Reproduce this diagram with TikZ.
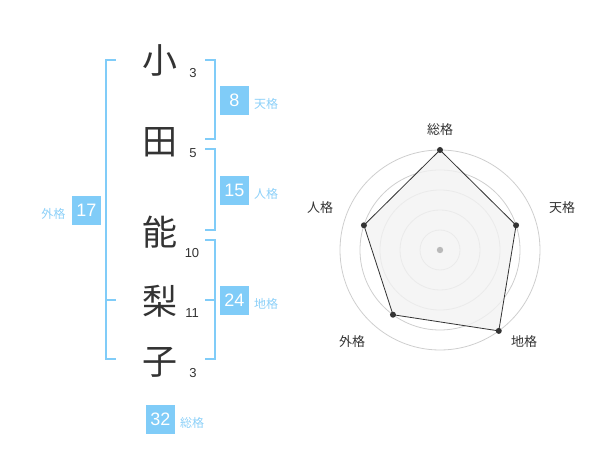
\documentclass[tikz,border=0pt]{standalone}
\usepackage{fontspec}
\setmainfont{Liberation Sans}
\newfontfamily\jpfont{Noto Sans CJK JP}
\definecolor{kakublue}{RGB}{128,204,248}
\definecolor{kakulabel}{RGB}{140,208,248}
\definecolor{inkgray}{RGB}{51,51,51}
\definecolor{ringgray}{RGB}{206,206,206}
\definecolor{areagray}{RGB}{242,242,242}

\begin{document}
\begin{tikzpicture}[x=1pt,y=-1pt,
    kanji/.style={text=inkgray, inner sep=0pt, font=\jpfont\fontsize{35}{35}\selectfont},
    strokes/.style={text=inkgray, inner sep=0pt, font=\fontsize{13}{13}\selectfont},
    kakubox/.style={fill=kakublue, text=white, inner sep=0pt, minimum size=29pt, font=\fontsize{18}{18}\selectfont},
    kakuname/.style={text=kakulabel, inner sep=0pt, font=\jpfont\fontsize{12}{12}\selectfont},
    bracket/.style={draw=kakublue, line width=2pt},
    radarname/.style={text=inkgray, inner sep=0pt, font=\jpfont\fontsize{13}{13}\selectfont},
    vertex/.style={circle, fill=inkgray, inner sep=0pt, minimum size=6pt}]
        \useasboundingbox (0,0) rectangle (600,470);

        % Name characters
        \node[kanji] (ko) at (160, 60) {小};
        \node[kanji] (ta) at (160, 142) {田};
        \node[kanji] (no) at (160, 232) {能};
        \node[kanji] (ri) at (160, 301) {梨};
        \node[kanji] (ko2) at (160, 362) {子};

        % Stroke counts
        \node[strokes] (s_ko) at (193, 73) {3};
        \node[strokes] (s_ta) at (193, 153) {5};
        \node[strokes] (s_no) at (192, 253) {10};
        \node[strokes] (s_ri) at (192, 313) {11};
        \node[strokes] (s_ko2) at (193, 373) {3};

        % Outer bracket
        \draw[bracket] (115.5, 60) -- (105.5, 60) -- (105.5, 359.5) -- (115.5, 359.5);
            \draw[bracket] (105.5, 300) -- (115.5, 300);

        % Right brackets
        \draw[bracket] (205, 60) -- (215, 60) -- (215, 139.5) -- (205, 139.5);
        \draw[bracket] (205, 149.5) -- (215, 149.5) -- (215, 230) -- (205, 230);
        \draw[bracket] (205, 240) -- (215, 240) -- (215, 359.5) -- (205, 359.5);
            \draw[bracket] (205, 300) -- (215, 300);

        % Scores
        \node[kakubox] (ten) at (234.5, 100.5) {8};
        \node[kakuname] at (266, 104) {天格};
        \node[kakubox] (jin) at (234.5, 190.5) {15};
        \node[kakuname] at (266, 194) {人格};
        \node[kakubox] (chi) at (234.5, 300.5) {24};
        \node[kakuname] at (266, 304) {地格};
        \node[kakubox] (gai) at (86.5, 210.5) {17};
        \node[kakuname] at (53.5, 214) {外格};
        \node[kakubox] (sou) at (160.5, 419) {32};
        \node[kakuname] at (192, 423) {総格};

        % Radar chart
        \begin{scope}[shift={(440, 250)}, y=1pt]
            % Rings
            \draw[ringgray, line width=0.8pt] (0,0) circle (20);
            \draw[ringgray, line width=0.8pt] (0,0) circle (40);
            \draw[ringgray, line width=0.8pt] (0,0) circle (60);
            \draw[ringgray, line width=0.8pt] (0,0) circle (80);
            \draw[ringgray, line width=0.8pt] (0,0) circle (100);

            % Score area
            \coordinate (r_sou) at (90:100);
            \coordinate (r_ten) at (18:80);
            \coordinate (r_chi) at (-54:100);
            \coordinate (r_gai) at (-126:80);
            \coordinate (r_jin) at (162:80);
            \filldraw[fill=areagray, fill opacity=0.8, draw=inkgray, line width=0.8pt] (r_sou) -- (r_ten) -- (r_chi) -- (r_gai) -- (r_jin) -- cycle;

            % Points
            \node[vertex] at (r_sou) {};
            \node[vertex] at (r_ten) {};
            \node[vertex] at (r_chi) {};
            \node[vertex] at (r_gai) {};
            \node[vertex] at (r_jin) {};
            \fill[ringgray!90!black] (0,0) circle (3.2);
        \end{scope}

        % Radar labels
        \node[radarname] at (440, 130) {総格};
        \node[radarname] at (562, 208) {天格};
        \node[radarname] at (524, 342) {地格};
        \node[radarname] at (352, 342) {外格};
        \node[radarname] at (320, 208) {人格};
    \end{tikzpicture}
\end{document}
